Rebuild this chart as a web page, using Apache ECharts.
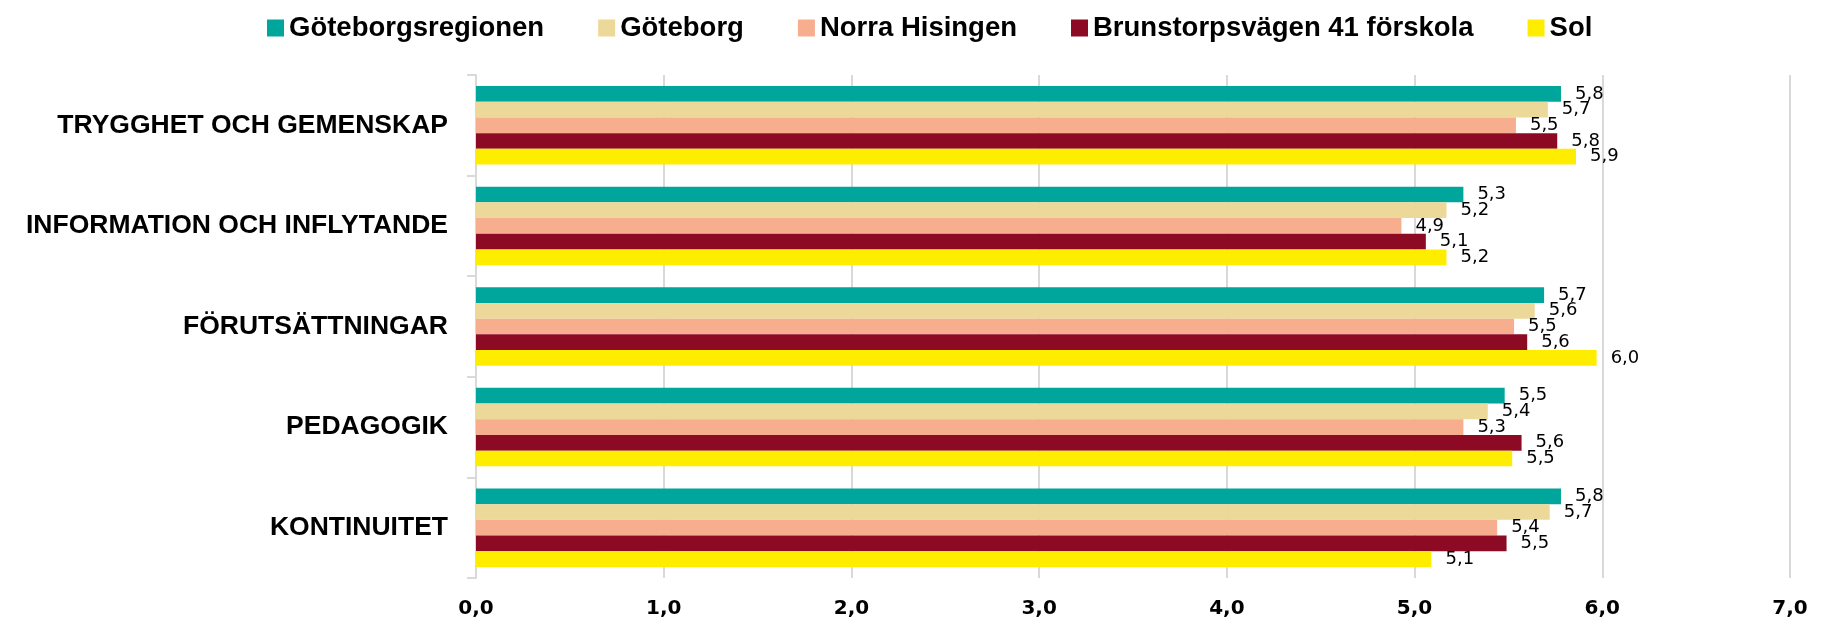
<!DOCTYPE html>
<html>
<head>
<meta charset="utf-8">
<script src="https://cdn.jsdelivr.net/npm/echarts@6/dist/echarts.min.js"></script>
<style>
html,body{margin:0;padding:0;background:#fff;}
#c{width:1829px;height:620px;}
</style>
</head>
<body>
<div id="c"></div>
<script>
const categories = ['TRYGGHET OCH GEMENSKAP','INFORMATION OCH INFLYTANDE','FÖRUTSÄTTNINGAR','PEDAGOGIK','KONTINUITET'];
const seriesNames = ['Göteborgsregionen','Göteborg','Norra Hisingen','Brunstorpsvägen 41 förskola','Sol'];
const goteborgsregionen = [5.78, 5.26, 5.69, 5.48, 5.78];
const goteborg = [5.71, 5.17, 5.64, 5.39, 5.72];
const norraHisingen = [5.54, 4.93, 5.53, 5.26, 5.44];
const brunstorpsvagen = [5.76, 5.06, 5.60, 5.57, 5.49];
const sol = [5.86, 5.17, 5.97, 5.52, 5.09];
const xTicks = [0,1,2,3,4,5,6,7];

const seriesData = [goteborgsregionen, goteborg, norraHisingen, brunstorpsvagen, sol];
const colors = ['#00a69c','#ecd898','#f6ae8f','#8c0a24','#ffed00'];
const FONT = '"Liberation Sans", Arial, sans-serif';
const FONT2 = '"DejaVu Sans", sans-serif';
const fmt = v => Number(v).toFixed(1).replace('.', ',');

const chart = echarts.init(document.getElementById('c'), null, {renderer:'canvas'});
chart.setOption({
  animation: false,
  color: colors,
  legend: {
    top: 9,
    left: 262,
    itemWidth: 17,
    itemHeight: 17,
    itemGap: 54,
    icon: 'rect',
    textStyle: {fontFamily: FONT, fontSize: 27.5, fontWeight: 'bold', color: '#000'},
    data: seriesNames
  },
  grid: {left: 476, right: 39, top: 75, bottom: 42, containLabel: false},
  xAxis: {
    type: 'value', min: xTicks[0], max: xTicks[xTicks.length-1], interval: 1,
    axisLine: {show: false}, axisTick: {show: false},
    splitLine: {show: true, lineStyle: {color: '#d9d9d9', width: 2}},
    axisLabel: {margin: 21, fontFamily: FONT2, fontSize: 20, fontWeight: 'bold', color: '#000', formatter: fmt}
  },
  yAxis: {
    type: 'category', inverse: true, data: categories,
    axisLine: {show: true, lineStyle: {color: '#d9d9d9', width: 2}},
    axisTick: {show: true, length: 9, lineStyle: {color: '#d9d9d9', width: 2}},
    axisLabel: {margin: 28, fontFamily: FONT, fontSize: 26.5, fontWeight: 'bold', color: '#000'}
  },
  series: seriesNames.map((n, i) => ({
    name: n, type: 'bar', data: seriesData[i],
    barGap: '0%', barCategoryGap: '22%',
    itemStyle: {color: colors[i]},
    label: {show: true, position: 'right', distance: 14, formatter: p => fmt(p.value),
      fontFamily: FONT2, fontSize: 18, color: '#000'}
  }))
});
</script>
</body>
</html>
